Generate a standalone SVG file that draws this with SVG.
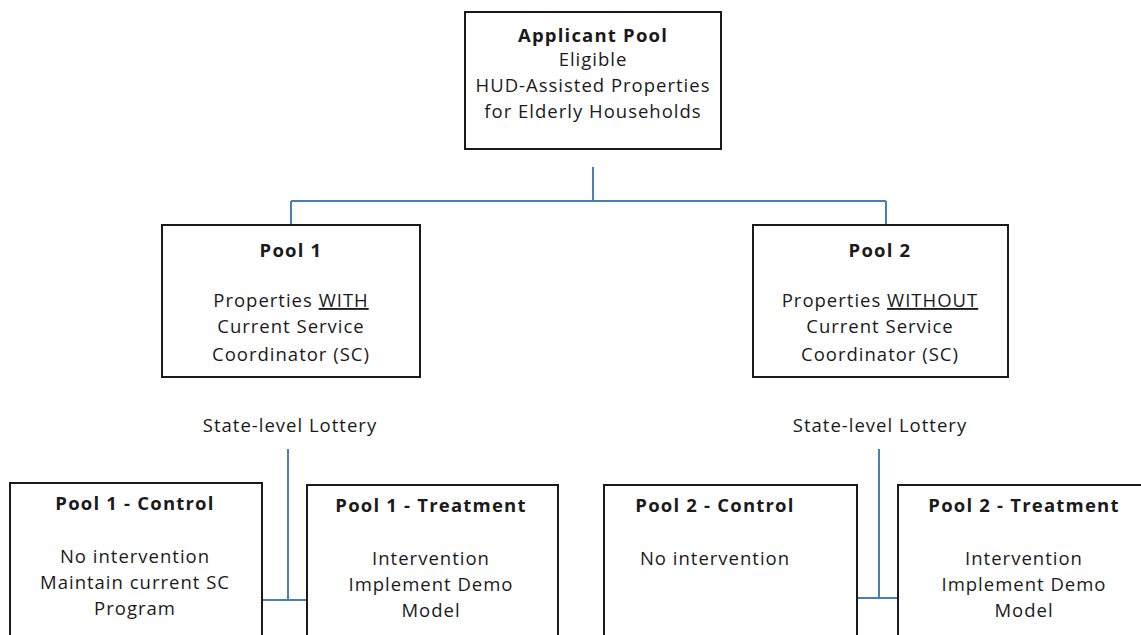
<svg xmlns="http://www.w3.org/2000/svg" width="1141" height="635" viewBox="0 0 1141 635">
<style>
.box{fill:#fff;stroke:#1a1a1a;stroke-width:2}
.conn{fill:none;stroke:#4a7ebb;stroke-width:2}
text{font-family:"Open Sans","Liberation Sans",sans-serif;font-size:18.5px;letter-spacing:1px;fill:#1a1a1a;text-anchor:middle}
.b{font-weight:bold;letter-spacing:1.2px}
.u{text-decoration:underline}
</style>
<rect width="1141" height="635" fill="#fff"/>
<g id="connectors">
<path class="conn" d="M593,167 V201 M291,201 H886 M291,201 V225 M886,201 V225"/>
<path class="conn" d="M288,449 V600 M262,600 H307"/>
<path class="conn" d="M879,449 V598 M857,598 H898"/>
</g>
<g id="applicant-pool">
<rect class="box" x="465" y="12" width="256" height="137"/>
<text x="593" y="42" class="b">Applicant Pool</text>
<text x="593" y="66">Eligible</text>
<text x="593" y="92">HUD-Assisted Properties</text>
<text x="593" y="118">for Elderly Households</text>
</g>
<g id="pool1">
<rect class="box" x="162" y="225" width="258" height="152"/>
<text x="291" y="257" class="b">Pool 1</text>
<text x="291" y="307">Properties <tspan class="u">WITH</tspan></text>
<text x="291" y="333">Current Service</text>
<text x="291" y="361">Coordinator (SC)</text>
</g>
<g id="pool2">
<rect class="box" x="753" y="225" width="255" height="152"/>
<text x="880" y="257" class="b">Pool 2</text>
<text x="880" y="307">Properties <tspan class="u">WITHOUT</tspan></text>
<text x="880" y="333">Current Service</text>
<text x="880" y="361">Coordinator  (SC)</text>
</g>
<g id="lottery1"><text x="290" y="432">State-level Lottery</text></g>
<g id="lottery2"><text x="880" y="432">State-level Lottery</text></g>
<g id="pool1-control">
<rect class="box" x="10" y="483" width="252" height="170"/>
<text x="135" y="510" class="b">Pool 1 - Control</text>
<text x="135" y="563">No intervention</text>
<text x="135" y="589">Maintain current SC</text>
<text x="135" y="615">Program</text>
</g>
<g id="pool1-treatment">
<rect class="box" x="307" y="485" width="251" height="170"/>
<text x="431" y="512" class="b">Pool 1 - Treatment</text>
<text x="431" y="565">Intervention</text>
<text x="431" y="591">Implement Demo</text>
<text x="431" y="617">Model</text>
</g>
<g id="pool2-control">
<rect class="box" x="604" y="485" width="253" height="170"/>
<text x="715" y="512" class="b">Pool 2 - Control</text>
<text x="715" y="565">No intervention</text>
</g>
<g id="pool2-treatment">
<rect class="box" x="898" y="485" width="260" height="170"/>
<text x="1024" y="512" class="b">Pool 2 - Treatment</text>
<text x="1024" y="565">Intervention</text>
<text x="1024" y="591">Implement Demo</text>
<text x="1024" y="617">Model</text>
</g>
</svg>
